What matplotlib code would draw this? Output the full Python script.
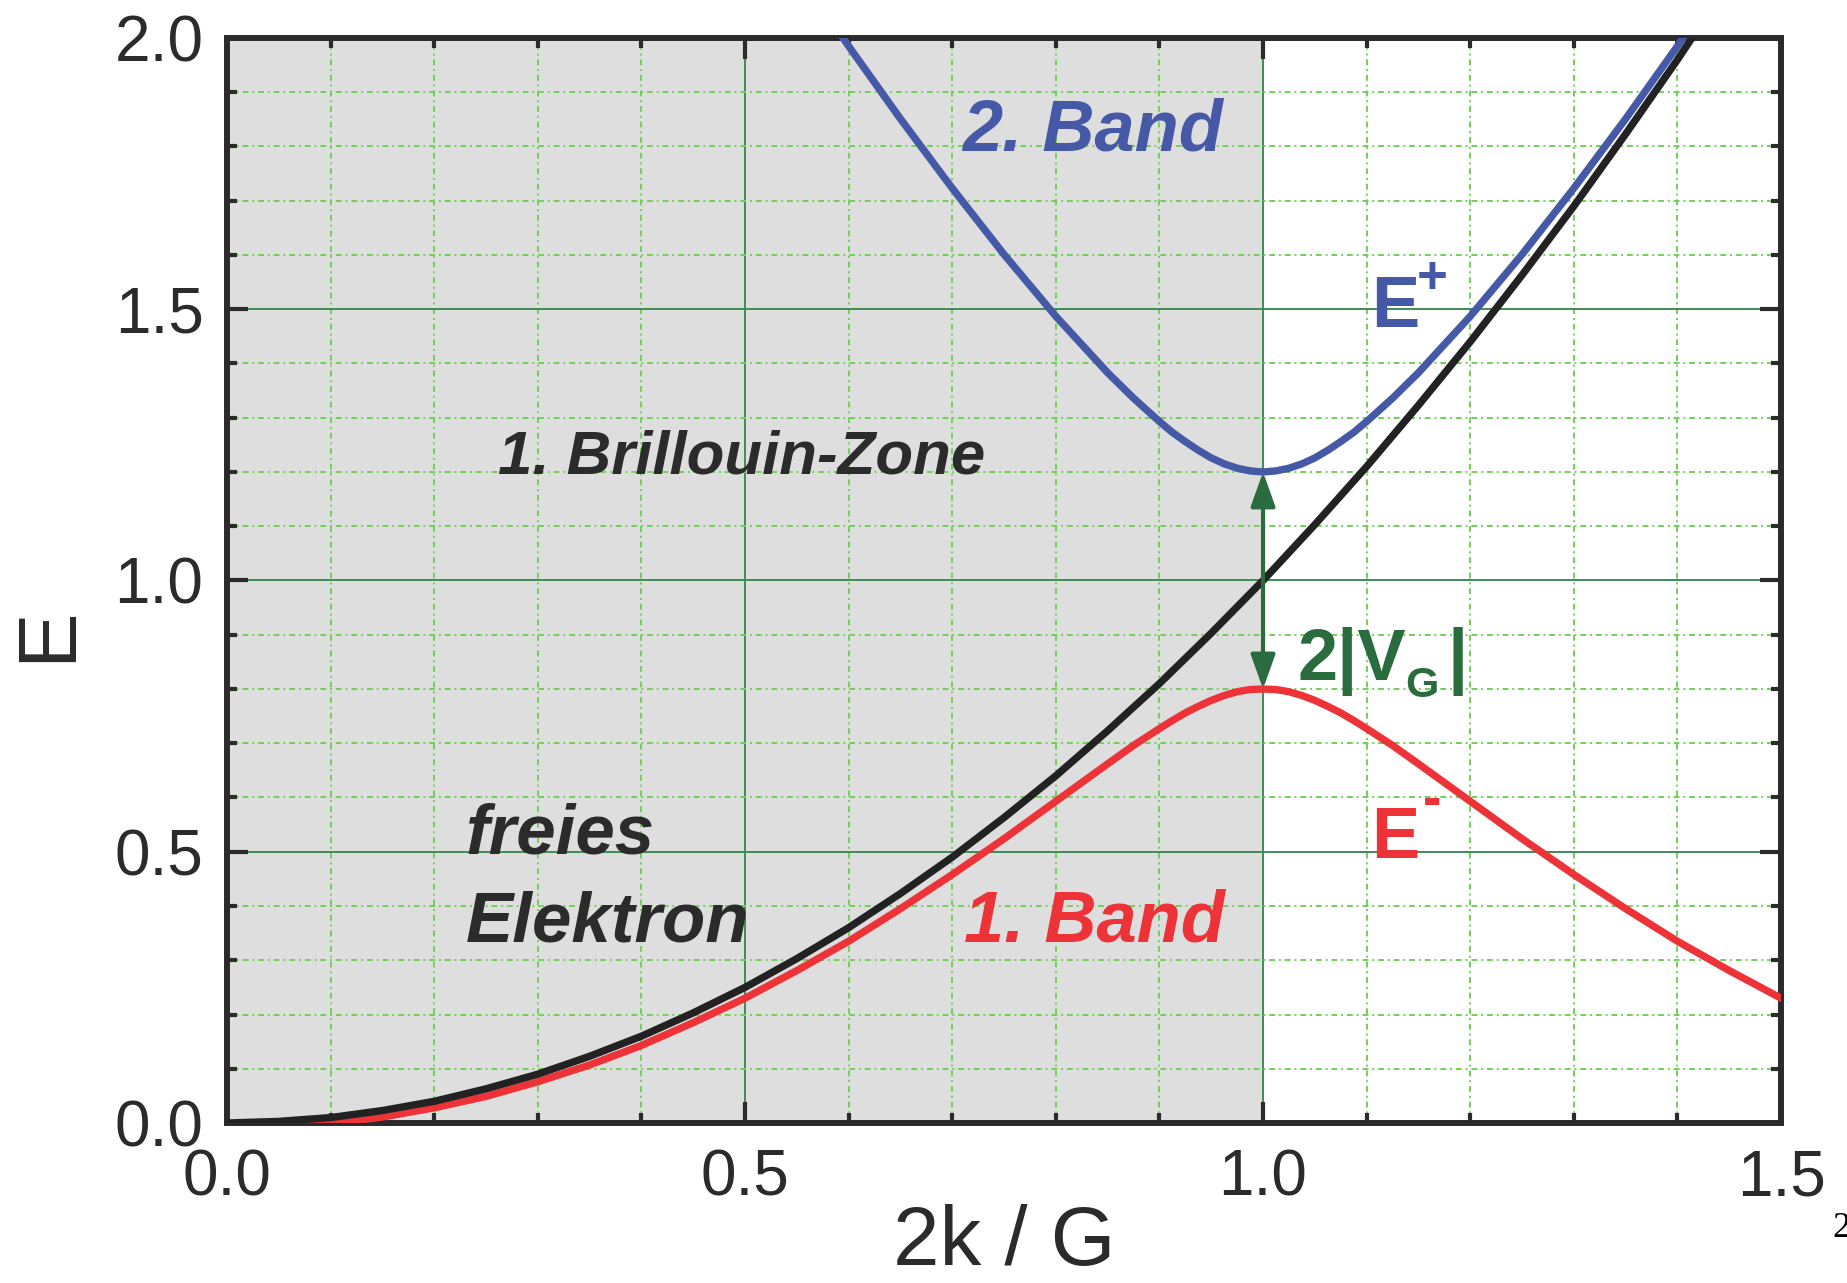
import matplotlib.pyplot as plt
from matplotlib.ticker import MultipleLocator, FormatStrFormatter

plt.rcParams['font.family'] = ['Liberation Sans', 'DejaVu Sans']

# free electron parabola (black curve)
k_free = [0.00, 0.05, 0.10, 0.15, 0.20, 0.25, 0.30, 0.35, 0.40, 0.45,
          0.50, 0.55, 0.60, 0.65, 0.70, 0.75, 0.80, 0.85, 0.90, 0.95,
          1.00, 1.05, 1.10, 1.15, 1.20, 1.25, 1.30, 1.35, 1.40, 1.45]
E_free = [0.000, 0.003, 0.010, 0.023, 0.040, 0.063, 0.090, 0.123, 0.160, 0.203,
          0.250, 0.303, 0.360, 0.423, 0.490, 0.563, 0.640, 0.723, 0.810, 0.903,
          1.000, 1.103, 1.210, 1.323, 1.440, 1.563, 1.690, 1.823, 1.960, 2.103]

# 1. Band, E- (red curve)
k_lower = [0.00, 0.05, 0.10, 0.15, 0.20, 0.25, 0.30, 0.35, 0.40, 0.45,
           0.50, 0.55, 0.60, 0.65, 0.70, 0.75, 0.80, 0.85, 0.875, 0.90,
           0.9125, 0.925, 0.9375, 0.95, 0.9625, 0.975, 0.9875, 1.00,
           1.0125, 1.025, 1.0375, 1.05, 1.0625, 1.075, 1.0875, 1.10,
           1.125, 1.15, 1.20, 1.25, 1.30, 1.35, 1.40, 1.45, 1.50]
E_lower = [-0.010, -0.008, -0.001, 0.011, 0.028, 0.049, 0.076, 0.107, 0.143, 0.185,
           0.230, 0.281, 0.335, 0.395, 0.458, 0.524, 0.593, 0.662, 0.696, 0.727,
           0.742, 0.756, 0.768, 0.779, 0.788, 0.795, 0.799, 0.800,
           0.799, 0.795, 0.788, 0.779, 0.768, 0.756, 0.742, 0.727,
           0.696, 0.662, 0.593, 0.524, 0.458, 0.395, 0.335, 0.281, 0.230]

# 2. Band, E+ (blue curve)
k_upper = [0.55, 0.60, 0.65, 0.70, 0.75, 0.80, 0.85, 0.875, 0.90,
           0.9125, 0.925, 0.9375, 0.95, 0.9625, 0.975, 0.9875, 1.00,
           1.0125, 1.025, 1.0375, 1.05, 1.0625, 1.075, 1.0875, 1.10,
           1.125, 1.15, 1.20, 1.25, 1.30, 1.35, 1.40, 1.45]
E_upper = [2.125, 1.985, 1.851, 1.723, 1.601, 1.487, 1.383, 1.336, 1.293,
           1.273, 1.256, 1.240, 1.226, 1.215, 1.207, 1.202, 1.200,
           1.202, 1.207, 1.215, 1.226, 1.240, 1.256, 1.273, 1.293,
           1.336, 1.383, 1.487, 1.601, 1.723, 1.851, 1.985, 2.125]

zone_edge = 1.0
gap_bottom, gap_top = 0.8, 1.2

dark = '#2b2b2b'
blue = '#4659a7'
red = '#ee3338'
green = '#2b6c3e'

fig = plt.figure(figsize=(18.47, 12.83), dpi=100)
ax = fig.add_axes([0.1229, 0.1247, 0.8414, 0.8457])

ax.axvspan(0, zone_edge, color='#dedede', zorder=0, lw=0)

line_kw = dict(lw=5.3, solid_joinstyle='round', solid_capstyle='round')
ax.plot(k_lower, E_lower, color=red, zorder=3, **line_kw)
ax.plot(k_upper, E_upper, color=blue, zorder=3, **line_kw)
ax.plot(k_free, E_free, color='#222222', zorder=4, **line_kw)

ax.set_xlim(0, 1.5)
ax.set_ylim(0, 2.0)
ax.xaxis.set_major_locator(MultipleLocator(0.5))
ax.xaxis.set_minor_locator(MultipleLocator(0.1))
ax.yaxis.set_major_locator(MultipleLocator(0.5))
ax.yaxis.set_minor_locator(MultipleLocator(0.1))
ax.xaxis.set_major_formatter(FormatStrFormatter('%.1f'))
ax.yaxis.set_major_formatter(FormatStrFormatter('%.1f'))

ax.set_axisbelow(True)
ax.grid(which='major', color='#3c8c55', lw=1.4, ls='-')
ax.grid(which='minor', color='#70d058', lw=1.4, ls=(0, (3.0, 2.0, 1, 2.0)))

ax.tick_params(which='both', direction='in', top=True, right=True,
               width=3, color=dark, labelsize=46, labelcolor=dark)
ax.tick_params(which='major', length=15)
ax.tick_params(which='minor', length=7)
ax.tick_params(axis='x', pad=18)
ax.tick_params(axis='y', pad=17)
for s in ax.spines.values():
    s.set_linewidth(4.3)
    s.set_color(dark)

fig.text(0.5435, 0.014, '2k / G', fontsize=60, color=dark, ha='center', va='baseline')
fig.text(0.026, 0.506, 'E', fontsize=60, color=dark, rotation=90, ha='center', va='center')

# gap arrow
ax.annotate('', xy=(zone_edge, gap_top), xytext=(zone_edge, gap_bottom),
            arrowprops=dict(arrowstyle='<|-|>,head_length=0.7,head_width=0.25',
                            mutation_scale=30, color=green, lw=3,
                            shrinkA=0, shrinkB=0), zorder=5)

bi = dict(fontweight='bold', fontstyle='italic')
ax.text(0.710, 1.792, '2. Band', color=blue, fontsize=52, **bi)
ax.text(0.711, 0.334, '1. Band', color=red, fontsize=52, **bi)
ax.text(0.262, 1.198, '1. Brillouin-Zone', color=dark, fontsize=44.5, **bi)
ax.text(0.230, 0.496, 'freies', color=dark, fontsize=51, **bi)
ax.text(0.230, 0.334, 'Elektron', color=dark, fontsize=51, **bi)

ax.text(1.104, 1.467, 'E', color=blue, fontsize=52, fontweight='bold')
ax.text(1.163, 1.556, '+', color=blue, fontsize=38, fontweight='bold', ha='center', va='center')
ax.text(1.104, 0.488, 'E', color=red, fontsize=52, fontweight='bold')
ax.text(1.163, 0.592, '-', color=red, fontsize=40, fontweight='bold', ha='center', va='center')

ax.text(1.033, 0.817, '2|V', color=green, fontsize=52, fontweight='bold')
ax.text(1.137, 0.785, 'G', color=green, fontsize=31, fontweight='bold')
ax.text(1.178, 0.817, '|', color=green, fontsize=52, fontweight='bold')

fig.text(0.992, 0.036, '2', fontsize=26, family='Liberation Serif', color='black')

fig.savefig('out.png', dpi=100)
